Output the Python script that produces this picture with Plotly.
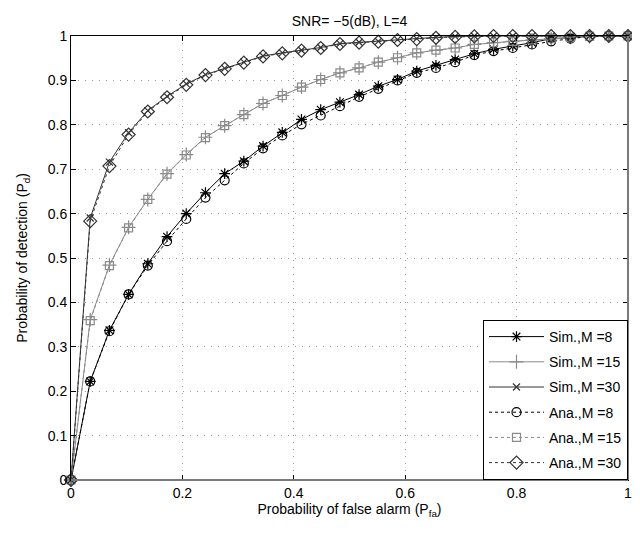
import plotly.graph_objects as go

# Pfa grid (30 points from 0 to 1)
pfa = [0, 0.0345, 0.069, 0.1034, 0.1379, 0.1724, 0.2069, 0.2414, 0.2759, 0.3103,
       0.3448, 0.3793, 0.4138, 0.4483, 0.4828, 0.5172, 0.5517, 0.5862, 0.6207, 0.6552,
       0.6897, 0.7241, 0.7586, 0.7931, 0.8276, 0.8621, 0.8966, 0.931, 0.9655, 1.0]

# Pd values
sim_m8 = [0, 0.222, 0.337, 0.418, 0.487, 0.548, 0.600, 0.647, 0.690, 0.718,
          0.752, 0.783, 0.812, 0.834, 0.851, 0.868, 0.887, 0.902, 0.921, 0.934,
          0.947, 0.960, 0.970, 0.977, 0.985, 0.994, 0.996, 1.0, 1.0, 1.0]
ana_m8 = [0, 0.222, 0.335, 0.418, 0.483, 0.538, 0.588, 0.636, 0.675, 0.713,
          0.747, 0.776, 0.801, 0.821, 0.842, 0.863, 0.881, 0.900, 0.917, 0.928,
          0.941, 0.957, 0.966, 0.973, 0.981, 0.988, 0.994, 0.999, 1.0, 1.0]
sim_m15 = [0, 0.361, 0.484, 0.569, 0.632, 0.690, 0.733, 0.772, 0.798, 0.823,
           0.848, 0.866, 0.885, 0.902, 0.917, 0.928, 0.941, 0.951, 0.962, 0.968,
           0.973, 0.981, 0.985, 0.988, 0.991, 0.994, 0.997, 0.999, 1.0, 1.0]
ana_m15 = [0, 0.359, 0.483, 0.568, 0.632, 0.689, 0.732, 0.771, 0.798, 0.823,
           0.848, 0.866, 0.885, 0.902, 0.917, 0.928, 0.941, 0.951, 0.962, 0.968,
           0.973, 0.981, 0.985, 0.988, 0.991, 0.994, 0.997, 0.999, 1.0, 1.0]
sim_m30 = [0, 0.590, 0.716, 0.782, 0.832, 0.864, 0.892, 0.913, 0.927, 0.941,
           0.955, 0.962, 0.968, 0.974, 0.983, 0.986, 0.988, 0.992, 0.994, 0.997,
           0.999, 1.0, 1.0, 1.0, 1.0, 1.0, 1.0, 1.0, 1.0, 1.0]
ana_m30 = [0, 0.583, 0.707, 0.778, 0.830, 0.862, 0.890, 0.912, 0.926, 0.940,
           0.954, 0.961, 0.967, 0.973, 0.982, 0.985, 0.987, 0.991, 0.993, 0.996,
           0.998, 0.999, 1.0, 1.0, 1.0, 1.0, 1.0, 1.0, 1.0, 1.0]

xticks = [0, 0.2, 0.4, 0.6, 0.8, 1]
yticks = [0, 0.1, 0.2, 0.3, 0.4, 0.5, 0.6, 0.7, 0.8, 0.9, 1]

FONT = "Liberation Sans, Arial, sans-serif"

series = [
    ("Sim.,M =8", sim_m8, "black", "solid", "asterisk-open", 9),
    ("Sim.,M =15", sim_m15, "#8a8a8a", "solid", "cross-thin-open", 10),
    ("Sim.,M =30", sim_m30, "#333333", "solid", "x-thin-open", 7),
    ("Ana.,M =8", ana_m8, "black", "dot", "circle-open", 9),
    ("Ana.,M =15", ana_m15, "#8a8a8a", "dot", "square-open", 8),
    ("Ana.,M =30", ana_m30, "#333333", "dot", "diamond-open", 10),
]

fig = go.Figure()
for i, (name, vals, color, dash, symbol, size) in enumerate(series):
    fig.add_trace(go.Scatter(
        x=pfa, y=vals, name=name, mode="lines+markers",
        legendgroup=f"g{i}",
        line=dict(color=color, width=1, dash=dash),
        marker=dict(symbol=symbol, size=size, color=color, line=dict(color=color, width=1.2)),
        cliponaxis=False,
    ))

axis_style = dict(
    range=[0, 1], showline=True, linecolor="black", linewidth=1, mirror="allticks",
    ticks="inside", ticklen=5, tickcolor="black", automargin=False,
    ticklabeloverflow="allow",
    showgrid=True, gridcolor="#9a9a9a", griddash="1px,6px", gridwidth=1,
    zeroline=False, tickfont=dict(size=14, color="black"),
)

fig.update_xaxes(tickvals=xticks, ticktext=[f"{t:g}" for t in xticks],
                 title=dict(text="Probability of false alarm (P<sub>fa</sub>)", font=dict(size=14), standoff=4),
                 **axis_style)
fig.update_yaxes(tickvals=yticks, ticktext=[f"{t:g}" for t in yticks],
                 title=dict(text="Probability of detection (P<sub>d</sub>)", font=dict(size=14), standoff=16),
                 **axis_style)

# darker lower/right frame as in the source image
fig.add_shape(type="line", xref="paper", yref="paper", x0=0, x1=1, y0=0, y1=0,
              line=dict(color="#7a7a7a", width=2))
fig.add_shape(type="line", xref="paper", yref="paper", x0=1, x1=1, y0=0, y1=1,
              line=dict(color="#7a7a7a", width=2))

# the page body adds an 8px margin, so the figure is sized to fit inside the window
fig.update_layout(
    width=624, height=519,
    margin=dict(l=63, r=4, t=28, b=47),
    paper_bgcolor="white", plot_bgcolor="white",
    font=dict(family=FONT, size=14, color="black"),
    title=dict(text="SNR= \u22125(dB), L=4", xref="paper", x=0.5, xanchor="center",
               yref="container", y=0.985, yanchor="top", font=dict(size=14)),
    legend=dict(x=1, y=0, xanchor="right", yanchor="bottom",
                bgcolor="white", bordercolor="black", borderwidth=1,
                font=dict(size=14), tracegroupgap=4, itemwidth=55),
)

fig.write_html("out.html")
